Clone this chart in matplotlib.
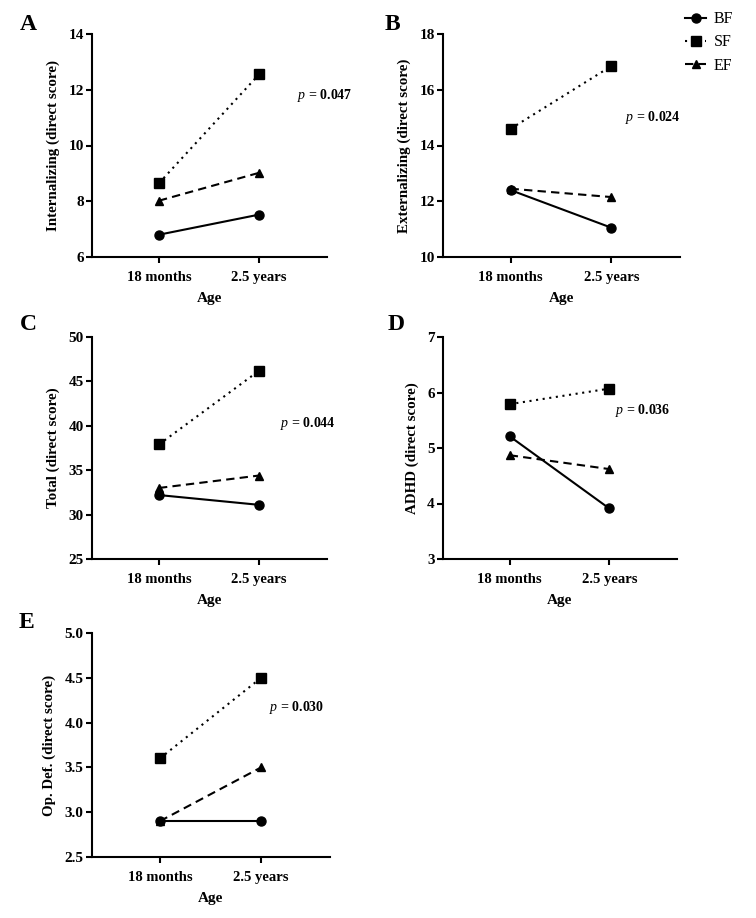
import matplotlib
matplotlib.use("Agg")
import matplotlib.pyplot as plt
from matplotlib.lines import Line2D

plt.rcParams['font.family'] = ['Liberation Serif', 'DejaVu Serif']
plt.rcParams['mathtext.fontset'] = 'custom'
plt.rcParams['mathtext.it'] = 'Liberation Serif:italic'
plt.rcParams['mathtext.rm'] = 'Liberation Serif:bold'

ages = ["18 months", "2.5 years"]
groups = ["BF", "SF", "EF"]

int_bf = [6.8, 7.52]
int_sf = [8.65, 12.55]
int_ef = [8.02, 9.02]

ext_bf = [12.4, 11.05]
ext_sf = [14.6, 16.85]
ext_ef = [12.45, 12.15]

tot_bf = [32.2, 31.1]
tot_sf = [37.9, 46.2]
tot_ef = [33.0, 34.4]

adhd_bf = [5.21, 3.91]
adhd_sf = [5.79, 6.07]
adhd_ef = [4.87, 4.62]

opd_bf = [2.9, 2.9]
opd_sf = [3.6, 4.5]
opd_ef = [2.9, 3.5]

p_values = ["0.047", "0.024", "0.044", "0.036", "0.030"]
ylabels = ["Internalizing (direct score)", "Externalizing (direct score)",
           "Total (direct score)", "ADHD (direct score)", "Op. Def. (direct score)"]
letters = ["A", "B", "C", "D", "E"]
yticks_list = [[6, 8, 10, 12, 14], [10, 12, 14, 16, 18], [25, 30, 35, 40, 45, 50],
               [3, 4, 5, 6, 7], [2.5, 3.0, 3.5, 4.0, 4.5, 5.0]]
ytick_fmt = ["{:.0f}", "{:.0f}", "{:.0f}", "{:.0f}", "{:.1f}"]
data = [(int_bf, int_sf, int_ef), (ext_bf, ext_sf, ext_ef), (tot_bf, tot_sf, tot_ef),
        (adhd_bf, adhd_sf, adhd_ef), (opd_bf, opd_sf, opd_ef)]
p_pos = [(1.38, 11.78), (1.13, 15.0), (1.21, 40.3), (1.06, 5.67), (1.08, 4.17)]

W, H = 756, 918
boxes = [(92, 34, 327, 257), (443, 34, 680, 257), (92, 337, 327, 559),
         (443, 337, 677, 559), (92, 633, 330, 857)]
letter_pos = [(28, 25), (392, 25), (28, 325), (396, 325), (26, 622)]

styles = [dict(ls='-', marker='o', ms=6.5),
          dict(ls=(0, (1, 2.2)), marker='s', ms=6.5),
          dict(ls=(0, (4, 2.5)), marker='^', ms=5.5)]

fig = plt.figure(figsize=(W / 100, H / 100), dpi=100)
x = [0, 1]
for i in range(5):
    l, t, r, b = boxes[i]
    ax = fig.add_axes([l / W, 1 - b / H, (r - l) / W, (b - t) / H])
    for vals, st in zip(data[i], styles):
        ax.plot(x, vals, color='black', lw=1.5, clip_on=False, **st)
    ax.set_xlim(-0.67, 1.68)
    yt = yticks_list[i]
    ax.set_ylim(yt[0], yt[-1])
    ax.set_yticks(yt)
    ax.set_yticklabels([ytick_fmt[i].format(v) for v in yt])
    ax.set_xticks(x)
    ax.set_xticklabels(ages)
    for s in ['top', 'right']:
        ax.spines[s].set_visible(False)
    for s in ['left', 'bottom']:
        ax.spines[s].set_linewidth(1.5)
    ax.tick_params(width=1.5, length=4)
    ax.tick_params(axis='x', labelsize=10.5, pad=6)
    ax.tick_params(axis='y', labelsize=11, pad=2)
    for lab in ax.get_xticklabels() + ax.get_yticklabels():
        lab.set_fontweight('bold')
    ax.set_xlabel("Age", fontsize=11, fontweight='bold', labelpad=6)
    ax.set_ylabel(ylabels[i], fontsize=10.8, fontweight='bold', labelpad=6)
    px, py = p_pos[i]
    ax.text(px, py, r"$\mathit{p}$ = " + p_values[i], fontsize=10, fontweight='bold',
            va='center', ha='left')
    lx, ly = letter_pos[i]
    fig.text(lx / W, 1 - ly / H, letters[i], fontsize=17, fontweight='bold',
             ha='center', va='center')

handles = [Line2D([0], [0], color='black', lw=1.5, **st) for st in styles]
fig.legend(handles, groups, loc='upper left', bbox_to_anchor=(674 / W, 1 - 0 / H),
           frameon=False, fontsize=11.5, handlelength=1.3, handletextpad=0.5,
           labelspacing=0.45, borderaxespad=0.3)

fig.savefig("out.png", dpi=100)
